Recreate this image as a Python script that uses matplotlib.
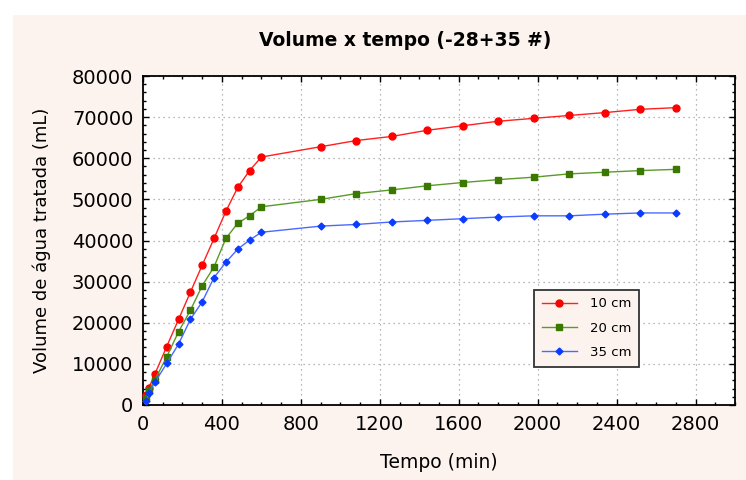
import matplotlib.pyplot as plt
import numpy as np
from matplotlib.patches import Rectangle
from matplotlib.ticker import MultipleLocator

# tempo (min)
tempo = [15, 30, 60, 120, 180, 240, 300, 360, 420, 480, 540, 600,
         900, 1080, 1260, 1440, 1620, 1800, 1980, 2160, 2340, 2520, 2700]

# volume de agua tratada (mL)
v10 = [2500, 4200, 7500, 14200, 20800, 27400, 34000, 40500, 47100, 52900, 57000, 60300,
       62800, 64300, 65300, 66800, 67900, 69000, 69700, 70400, 71100, 71900, 72300]
v20 = [1800, 3600, 6100, 11700, 17800, 23000, 29000, 33600, 40500, 44200, 46000, 48200,
       50000, 51400, 52300, 53300, 54100, 54800, 55400, 56200, 56600, 57000, 57300]
v35 = [900, 3000, 5500, 10100, 14800, 20800, 25100, 31000, 34700, 37900, 40100, 42000,
       43500, 43900, 44500, 44900, 45300, 45700, 46000, 46000, 46400, 46700, 46700]

bg = '#fdf3ee'

fig = plt.figure(figsize=(7.46, 4.80), dpi=100, facecolor='white')
fig.patches.append(Rectangle((13/746, 0), 1, 1 - 15/480,
                             transform=fig.transFigure, facecolor=bg,
                             edgecolor='none', zorder=-10))

ax = fig.add_axes([143/746, 75/480, 592/746, 329/480])
ax.set_facecolor('white')

ax.plot(tempo, v10, '-o', color='#ff2020', mfc='#ff0000', mec='#ff0000',
        markersize=5, linewidth=1.0, label='10 cm', clip_on=False, zorder=3)
ax.plot(tempo, v20, '-s', color='#5a9a28', mfc='#3a7800', mec='#3a7800',
        markersize=5, linewidth=1.0, label='20 cm', clip_on=False, zorder=3)
ax.plot(tempo, v35, '-D', color='#4a6aff', mfc='#0a3cff', mec='#0a3cff',
        markersize=3.5, linewidth=1.0, label='35 cm', clip_on=False, zorder=3)

ax.set_xlim(0, 3000)
ax.set_ylim(0, 80000)
ax.xaxis.set_major_locator(MultipleLocator(400))
ax.xaxis.set_minor_locator(MultipleLocator(100))
ax.yaxis.set_major_locator(MultipleLocator(10000))
ax.yaxis.set_minor_locator(MultipleLocator(2000))
ax.set_xticks(np.arange(0, 2801, 400))

ax.grid(True, which='major', linestyle=(0, (1, 3)), color='#a0a0a0', linewidth=0.9)
ax.tick_params(which='both', direction='in', top=True, right=True, color='black')
ax.tick_params(which='major', length=4, width=1, labelsize=14, pad=7)
ax.tick_params(which='minor', length=2.5, width=1)
for s in ax.spines.values():
    s.set_linewidth(1.3)

ax.set_xlabel('Tempo (min)', fontsize=13.5, labelpad=14)
ax.set_ylabel('Volume de água tratada (mL)', fontsize=13, labelpad=15)
fig.text(405/746, 1 - 40/480, 'Volume x tempo (-28+35 #)', ha='center', va='center',
         fontsize=13.5, fontweight='bold')

leg = ax.legend(loc='upper left', bbox_to_anchor=(0.650, 0.371), fontsize=9.5,
                frameon=True, fancybox=False, facecolor=bg, edgecolor='#333333',
                handlelength=2.6, labelspacing=0.85, borderpad=0.6, handletextpad=1.0)
leg.get_frame().set_linewidth(1.3)
leg.get_frame().set_alpha(1)

fig.savefig('out.png', dpi=100, facecolor=fig.get_facecolor())
